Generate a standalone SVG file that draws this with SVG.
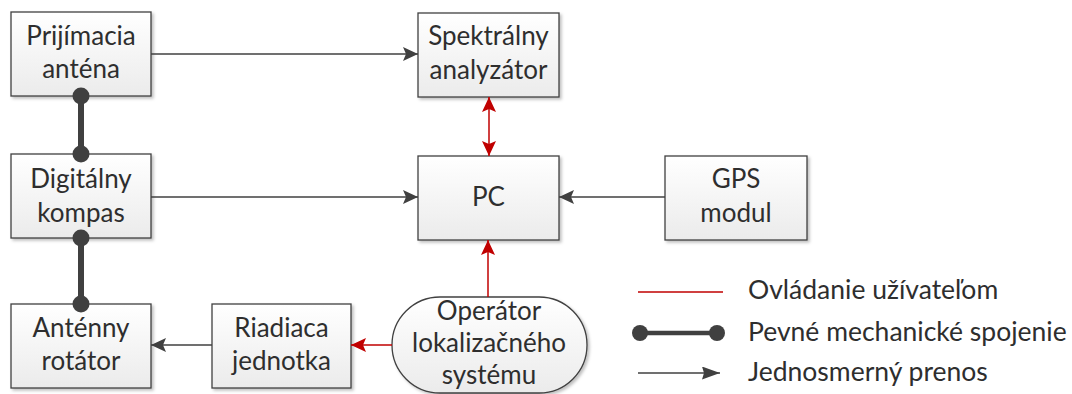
<svg xmlns="http://www.w3.org/2000/svg" width="1072" height="394" viewBox="0 0 1072 394">
  <defs>
    <linearGradient id="boxFill" x1="0" y1="0" x2="0" y2="1">
      <stop offset="0" stop-color="#ffffff"/>
      <stop offset="1" stop-color="#ebebeb"/>
    </linearGradient>
    <filter id="shadow" x="-10%" y="-10%" width="130%" height="130%">
      <feDropShadow dx="2" dy="2" stdDeviation="1.5" flood-color="#000" flood-opacity="0.25"/>
    </filter>
    <marker id="arrowDark" viewBox="0 0 15 14" refX="15" refY="7" markerWidth="15" markerHeight="14" markerUnits="userSpaceOnUse" orient="auto">
      <path d="M0,0 L15,7 L0,14 L3,7 Z" fill="#404040"/>
    </marker>
    <marker id="arrowLegend" viewBox="0 0 18 13" refX="18" refY="6.5" markerWidth="18" markerHeight="13" markerUnits="userSpaceOnUse" orient="auto">
      <path d="M0,0 L18,6.5 L0,13 L2,6.5 Z" fill="#404040"/>
    </marker>
    <marker id="arrowRed" viewBox="0 0 15 14" refX="15" refY="7" markerWidth="15" markerHeight="14" markerUnits="userSpaceOnUse" orient="auto-start-reverse">
      <path d="M0,0 L15,7 L0,14 L3,7 Z" fill="#c00000"/>
    </marker>
  </defs>
  <style>
    .box { fill: url(#boxFill); stroke: #404040; stroke-width: 1.3; filter: url(#shadow); }
    .lbl { font-family: Lato, "Liberation Sans", sans-serif; font-size: 26px; fill: #2e2e2e; text-anchor: middle; }
    .leg { font-family: Lato, "Liberation Sans", sans-serif; font-size: 26.5px; fill: #2e2e2e; }
    .flow { stroke: #404040; stroke-width: 1.3; fill: none; }
    .ctrl { stroke: #c00000; stroke-width: 1.5; fill: none; }
    .mech { stroke: #404040; stroke-width: 6; fill: none; }
    .mech-leg { stroke: #404040; stroke-width: 4.5; fill: none; }
    .dot { fill: #404040; }
  </style>

  <!-- nodes -->
  <g id="prijimacia-antena">
    <rect class="box" x="11" y="12" width="140" height="84"/>
    <text class="lbl" x="81" y="45">Prijímacia</text>
    <text class="lbl" x="81" y="78">anténa</text>
  </g>
  <g id="digitalny-kompas">
    <rect class="box" x="11" y="154" width="140" height="84"/>
    <text class="lbl" x="81" y="188">Digitálny</text>
    <text class="lbl" x="81" y="222">kompas</text>
  </g>
  <g id="antenny-rotator">
    <rect class="box" x="11" y="304" width="140" height="84"/>
    <text class="lbl" x="81" y="337">Anténny</text>
    <text class="lbl" x="81" y="370">rotátor</text>
  </g>
  <g id="riadiaca-jednotka">
    <rect class="box" x="212" y="304" width="139" height="84"/>
    <text class="lbl" x="281.5" y="337">Riadiaca</text>
    <text class="lbl" x="281.5" y="370">jednotka</text>
  </g>
  <g id="spektralny-analyzator">
    <rect class="box" x="418" y="13" width="141" height="84"/>
    <text class="lbl" x="488.5" y="45">Spektrálny</text>
    <text class="lbl" x="488.5" y="79">analyzátor</text>
  </g>
  <g id="pc">
    <rect class="box" x="418" y="156" width="141" height="84"/>
    <text class="lbl" x="488.5" y="206">PC</text>
  </g>
  <g id="gps-modul">
    <rect class="box" x="665" y="156" width="142" height="84"/>
    <text class="lbl" x="736" y="188">GPS</text>
    <text class="lbl" x="736" y="222">modul</text>
  </g>
  <g id="operator">
    <rect class="box" x="392" y="297" width="195" height="96" rx="48" ry="48"/>
    <text class="lbl" x="489" y="320">Operátor</text>
    <text class="lbl" x="489" y="352">lokalizačného</text>
    <text class="lbl" x="489" y="384">systému</text>
  </g>

  <!-- connectors -->
  <g id="connectors">
    <line class="flow" x1="151" y1="54" x2="418" y2="54" marker-end="url(#arrowDark)"/>
    <line class="flow" x1="151" y1="197" x2="418" y2="197" marker-end="url(#arrowDark)"/>
    <line class="flow" x1="665" y1="197" x2="559" y2="197" marker-end="url(#arrowDark)"/>
    <line class="flow" x1="212" y1="345" x2="151" y2="345" marker-end="url(#arrowDark)"/>
    <line class="ctrl" x1="489" y1="97" x2="489" y2="156" marker-start="url(#arrowRed)" marker-end="url(#arrowRed)"/>
    <line class="ctrl" x1="488" y1="297" x2="488" y2="240" marker-end="url(#arrowRed)"/>
    <line class="ctrl" x1="392" y1="345" x2="351" y2="345" marker-end="url(#arrowRed)"/>
    <line class="mech" x1="81" y1="96" x2="81" y2="154"/>
    <circle class="dot" cx="81" cy="96" r="8.5"/>
    <circle class="dot" cx="81" cy="154" r="8.5"/>
    <line class="mech" x1="81" y1="238" x2="81" y2="304"/>
    <circle class="dot" cx="81" cy="238" r="8.5"/>
    <circle class="dot" cx="81" cy="304" r="8.5"/>
  </g>

  <!-- legend -->
  <g id="legend">
    <line class="ctrl" x1="638" y1="292" x2="723" y2="292"/>
    <text class="leg" x="748" y="299">Ovládanie užívateľom</text>
    <line class="mech-leg" x1="640" y1="333" x2="717" y2="333"/>
    <circle class="dot" cx="640" cy="333" r="8"/>
    <circle class="dot" cx="717" cy="333" r="8"/>
    <text class="leg" x="748" y="341">Pevné mechanické spojenie</text>
    <line class="flow" x1="638" y1="373" x2="720" y2="373" marker-end="url(#arrowLegend)"/>
    <text class="leg" x="748" y="381">Jednosmerný prenos</text>
  </g>
</svg>
